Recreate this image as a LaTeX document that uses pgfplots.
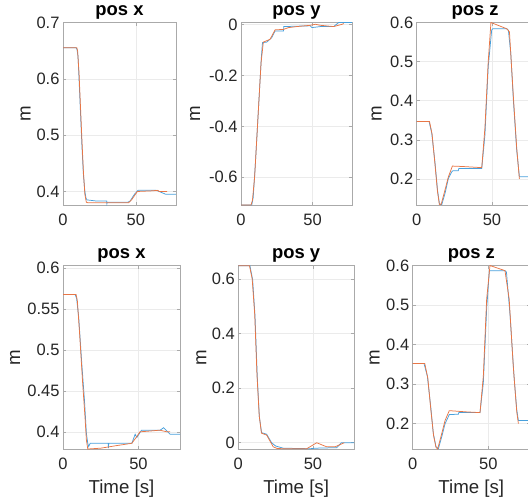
\documentclass[border=0pt]{standalone}
\usepackage{fontspec}
\setmainfont{Liberation Sans}
\usepackage{pgfplots}
\pgfplotsset{compat=1.18}

\definecolor{mblue}{RGB}{72,160,220}
\definecolor{morange}{RGB}{232,118,70}
\definecolor{txtgray}{RGB}{38,38,38}
\definecolor{boxgray}{RGB}{170,170,170}
\definecolor{gridgray}{RGB}{235,235,235}

\pgfplotsset{
  panel/.style={
    scale only axis, anchor=north west,
    xmin=0, xmax=77.5, xtick={0,50},
    grid=major, major grid style={gridgray, line width=0.6bp},
    axis line style={boxgray, line width=0.8bp},
    tick style={boxgray, line width=0.6bp},
    major tick length=3bp,
    tick label style={font=\fontsize{16.5bp}{18bp}\selectfont, text=txtgray},
    xticklabel style={yshift=-5bp},
    /pgf/number format/assume math mode=true,
    title style={font=\fontsize{18.4bp}{20bp}\selectfont\bfseries, inner sep=0pt, at={(0.5,1)}, anchor=south, yshift=-3bp},
    ylabel={m},
    ylabel style={font=\fontsize{18.7bp}{20bp}\selectfont, text=txtgray, anchor=center},
    xlabel style={font=\fontsize{18.7bp}{20bp}\selectfont, text=txtgray, at={(axis description cs:0.5,0)}, anchor=north, yshift=-31bp, inner sep=0pt},
    every axis plot/.append style={line width=0.75bp, no markers},
  },
}

\begin{document}
\begin{tikzpicture}

% row 1 -------------------------------------------------------------
\begin{axis}[panel, at={(63bp,-22.5bp)}, width=113bp, height=182.5bp,
  ymin=0.376, ymax=0.7, ytick={0.4,0.5,0.6,0.7}, title={pos x},
  ylabel style={at={(axis description cs:-0.332,0.5)}}]
\addplot[mblue] coordinates {
 (0,0.655)(9,0.655)(9.6,0.652)(10.3,0.64)(11,0.60)(12,0.54)(13,0.48)(14,0.43)
 (15,0.40)(15.8,0.388)(16.5,0.385)(20,0.384)(23,0.383)(30,0.383)(30.1,0.378)
 (30.3,0.381)(44.5,0.381)(46,0.383)(49,0.395)(51.4,0.402)(64,0.402)(66,0.400)
 (70.5,0.395)(77.5,0.395)};
\addplot[morange] coordinates {
 (0,0.655)(9.5,0.655)(10,0.65)(11,0.61)(12,0.55)(13,0.49)(14,0.435)(15,0.395)
 (16,0.381)(17,0.380)(45,0.380)(47,0.385)(51,0.400)(60,0.401)(65,0.402)
 (66,0.400)(71.5,0.400)};
\end{axis}

\begin{axis}[panel, at={(241bp,-22.5bp)}, width=111bp, height=182.5bp,
  ymin=-0.709, ymax=0.008, ytick={-0.6,-0.4,-0.2,0}, title={pos y},
  ylabel style={at={(axis description cs:-0.414,0.5)}}]
\addplot[mblue] coordinates {
 (0,-0.709)(7.5,-0.709)(8.5,-0.68)(10,-0.55)(11.5,-0.40)(13,-0.25)(14.2,-0.13)
 (15,-0.071)(18,-0.069)(21.5,-0.051)(23.8,-0.025)(29.7,-0.025)(29.9,-0.008)
 (48.4,-0.005)(49.5,-0.012)(55.4,-0.008)(64.7,-0.008)(68.2,0.008)(77.6,0.008)};
\addplot[morange] coordinates {
 (0,-0.709)(7,-0.709)(8,-0.69)(9.5,-0.6)(11,-0.45)(12.5,-0.3)(14,-0.15)
 (15.6,-0.069)(20.3,-0.058)(23.8,-0.021)(29.7,-0.019)(33.2,-0.012)(39,-0.008)
 (48.4,-0.003)(51.9,0.001)(55.4,-0.003)(64.7,-0.008)(70.6,0.001)(71.7,0.004)};
\end{axis}

\begin{axis}[panel, at={(416.7bp,-22.5bp)}, width=116.7bp, height=182.5bp,
  ymin=0.1335, ymax=0.6, ytick={0.2,0.3,0.4,0.5,0.6}, title={pos z},
  ylabel style={at={(axis description cs:-0.343,0.5)}}]
\addplot[mblue] coordinates {
 (0,0.347)(8.2,0.347)(10,0.317)(12.2,0.240)(13.8,0.172)(15.1,0.137)(16.6,0.134)
 (18.8,0.163)(21,0.201)(23.2,0.218)(24,0.221)(27.6,0.221)(28,0.227)(43.2,0.227)
 (45.3,0.312)(47.5,0.487)(49.8,0.581)(50.5,0.584)(59.8,0.584)(60.9,0.580)
 (62.5,0.52)(64.2,0.402)(66.4,0.274)(68.2,0.206)(77.5,0.206)};
\addplot[morange] coordinates {
 (0,0.347)(8.5,0.347)(10.2,0.315)(12.2,0.235)(13.8,0.168)(15.1,0.1335)(16.3,0.136)
 (18.8,0.172)(21,0.205)(23.7,0.233)(30,0.232)(43.2,0.229)(45.3,0.33)(47.5,0.5)
 (49.3,0.600)(59.8,0.584)(61.6,0.576)(64.2,0.410)(66.4,0.28)(68.2,0.200)};
\end{axis}

% row 2 -------------------------------------------------------------
\begin{axis}[panel, at={(63bp,-265.5bp)}, width=117bp, height=183.5bp,
  ymin=0.379, ymax=0.603, ytick={0.4,0.45,0.5,0.55,0.6}, title={pos x},
  ylabel style={at={(axis description cs:-0.41,0.5)}}, xlabel={Time [s]}]
\addplot[mblue] coordinates {
 (0,0.5675)(8,0.5675)(9,0.563)(10.4,0.540)(12.6,0.479)(14.2,0.439)(15.5,0.398)
 (16.4,0.386)(17,0.382)(18,0.386)(30,0.386)(30.1,0.380)(30.3,0.386)(45.6,0.386)
 (47.8,0.397)(48.9,0.393)(52,0.402)(64.4,0.402)(66.6,0.405)(68.8,0.401)
 (71,0.397)(77.5,0.397)};
\addplot[morange] coordinates {
 (0,0.5675)(8.7,0.5675)(9.5,0.56)(11,0.52)(13,0.46)(14.5,0.42)(15.5,0.39)
 (16.4,0.379)(25,0.380)(35,0.383)(45.6,0.386)(48,0.392)(51,0.400)(58,0.401)
 (64,0.402)(68.8,0.400)(71,0.400)};
\end{axis}

\begin{axis}[panel, at={(238.3bp,-265.5bp)}, width=115.7bp, height=183.5bp,
  ymin=-0.023, ymax=0.649, ytick={0,0.2,0.4,0.6}, title={pos y},
  ylabel style={at={(axis description cs:-0.32,0.5)}}, xlabel={Time [s]}]
\addplot[mblue] coordinates {
 (0,0.648)(7.8,0.648)(9.6,0.597)(11.2,0.463)(12.7,0.242)(14.1,0.095)(15.6,0.037)
 (19,0.031)(22.3,0.0)(25,-0.012)(30.1,-0.020)(48,-0.022)(52,-0.020)(66,-0.018)
 (69,0.0)(77.5,0.0)};
\addplot[morange] coordinates {
 (0,0.648)(7.5,0.648)(9.3,0.6)(11,0.47)(12.5,0.25)(14,0.1)(15.5,0.035)(19,0.028)
 (23.4,-0.015)(26,-0.021)(30,-0.022)(45.8,-0.022)(52.5,0.0)(59.2,-0.015)
 (64.8,-0.015)(71,0.0)};
\end{axis}

\begin{axis}[panel, at={(412.7bp,-265.5bp)}, width=117.2bp, height=183.5bp,
  ymin=0.136, ymax=0.6, ytick={0.2,0.3,0.4,0.5,0.6}, title={pos z},
  ylabel style={at={(axis description cs:-0.325,0.5)}}, xlabel={Time [s]}]
\addplot[mblue] coordinates {
 (0,0.352)(7.5,0.352)(9.7,0.320)(11.9,0.244)(13.6,0.176)(15.4,0.142)(17,0.137)
 (19.2,0.167)(21.4,0.200)(24.2,0.223)(30.2,0.224)(30.5,0.228)(44.5,0.228)
 (46.7,0.303)(48.9,0.49)(50.7,0.587)(61,0.587)(62,0.583)(64.4,0.473)(67,0.32)
 (68.8,0.235)(69.9,0.208)(77.5,0.208)};
\addplot[morange] coordinates {
 (0,0.352)(8,0.352)(10,0.315)(12,0.235)(13.8,0.170)(15.4,0.140)(16.5,0.136)
 (19.2,0.175)(21.4,0.208)(24.2,0.233)(35,0.230)(44.5,0.228)(46.7,0.32)
 (48.9,0.515)(51.1,0.600)(61,0.587)(63.8,0.515)(66.5,0.345)(68.8,0.23)(69.9,0.200)};
\end{axis}

\pgfresetboundingbox
\path[use as bounding box] (0,0) rectangle (528bp,-503bp);
\end{tikzpicture}
\end{document}
